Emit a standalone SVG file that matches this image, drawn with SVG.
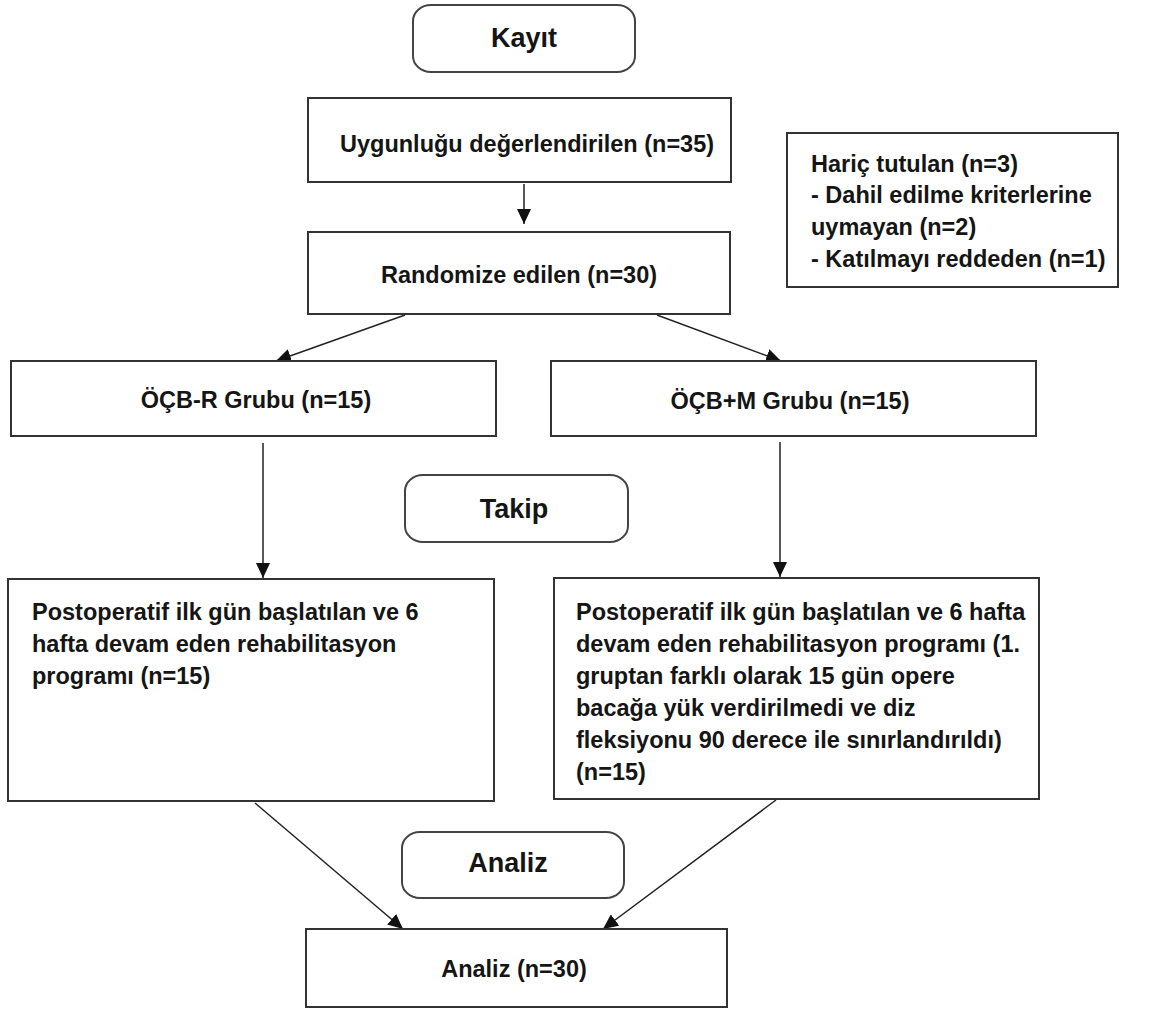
<svg xmlns="http://www.w3.org/2000/svg" width="1171" height="1014" viewBox="0 0 1171 1014">
<defs>
<marker id="ah" markerUnits="userSpaceOnUse" markerWidth="16" markerHeight="14" refX="15" refY="7" orient="auto">
<path d="M0,0 L15,7 L0,14 Z" fill="#111"/>
</marker>
</defs>
<style>
.box{fill:#fff;stroke:#333;stroke-width:2}
.pill{fill:#fff;stroke:#444;stroke-width:2}
.t{font-family:"Liberation Sans",Arial,sans-serif;font-weight:bold;font-size:23.5px;fill:#151515}
.p{font-family:"Liberation Sans",Arial,sans-serif;font-weight:bold;font-size:27px;fill:#151515}
.c{text-anchor:middle}
.con{stroke:#222;stroke-width:1.5;fill:none;marker-end:url(#ah)}
</style>
<rect width="1171" height="1014" fill="#fff"/>
<g id="connectors">
<line class="con" x1="524" y1="184" x2="524" y2="224"/>
<line class="con" x1="405" y1="315" x2="276" y2="361"/>
<line class="con" x1="657" y1="315" x2="781" y2="361"/>
<line class="con" x1="263" y1="443" x2="263" y2="578"/>
<line class="con" x1="780" y1="442" x2="780" y2="577"/>
<line class="con" x1="255" y1="803" x2="403" y2="929"/>
<line class="con" x1="776" y1="800" x2="603" y2="929"/>
</g>
<g id="kayit">
<rect class="pill" x="413" y="5" width="222" height="67" rx="18" ry="16"/>
<text class="p c" x="524" y="47">Kayıt</text>
</g>
<g id="uygunlugu">
<rect class="box" x="308" y="98" width="423" height="84"/>
<text class="t" x="340" y="152">Uygunluğu değerlendirilen (n=35)</text>
</g>
<g id="haric">
<rect class="box" x="787" y="133" width="331" height="154"/>
<text class="t" x="811" y="172">Hariç tutulan (n=3)</text>
<text class="t" x="811" y="203">- Dahil edilme kriterlerine</text>
<text class="t" x="811" y="235">uymayan (n=2)</text>
<text class="t" x="811" y="267">- Katılmayı reddeden (n=1)</text>
</g>
<g id="randomize">
<rect class="box" x="308" y="232" width="422" height="82"/>
<text class="t c" x="519" y="283">Randomize edilen (n=30)</text>
</g>
<g id="ocbr">
<rect class="box" x="11" y="361" width="485" height="75"/>
<text class="t c" x="256" y="408">ÖÇB-R Grubu (n=15)</text>
</g>
<g id="ocbm">
<rect class="box" x="551" y="361" width="485" height="75"/>
<text class="t c" x="790" y="409">ÖÇB+M Grubu (n=15)</text>
</g>
<g id="takip">
<rect class="pill" x="405" y="475" width="223" height="67" rx="18" ry="16"/>
<text class="p c" x="514" y="518">Takip</text>
</g>
<g id="program1">
<rect class="box" x="8" y="579" width="486" height="222"/>
<text class="t" x="32" y="620">Postoperatif ilk gün başlatılan ve 6</text>
<text class="t" x="32" y="652">hafta devam eden rehabilitasyon</text>
<text class="t" x="32" y="684">programı (n=15)</text>
</g>
<g id="program2">
<rect class="box" x="554" y="578" width="485" height="221"/>
<text class="t" x="576" y="620">Postoperatif ilk gün başlatılan ve 6 hafta</text>
<text class="t" x="576" y="652">devam eden rehabilitasyon programı (1.</text>
<text class="t" x="576" y="684">gruptan farklı olarak 15 gün opere</text>
<text class="t" x="576" y="716">bacağa yük verdirilmedi ve diz</text>
<text class="t" x="576" y="748">fleksiyonu 90 derece ile sınırlandırıldı)</text>
<text class="t" x="576" y="780">(n=15)</text>
</g>
<g id="analiz-label">
<rect class="pill" x="402" y="832" width="222" height="66" rx="18" ry="16"/>
<text class="p c" x="508" y="872">Analiz</text>
</g>
<g id="analiz">
<rect class="box" x="306" y="929" width="421" height="78"/>
<text class="t c" x="514" y="977">Analiz (n=30)</text>
</g>
</svg>
